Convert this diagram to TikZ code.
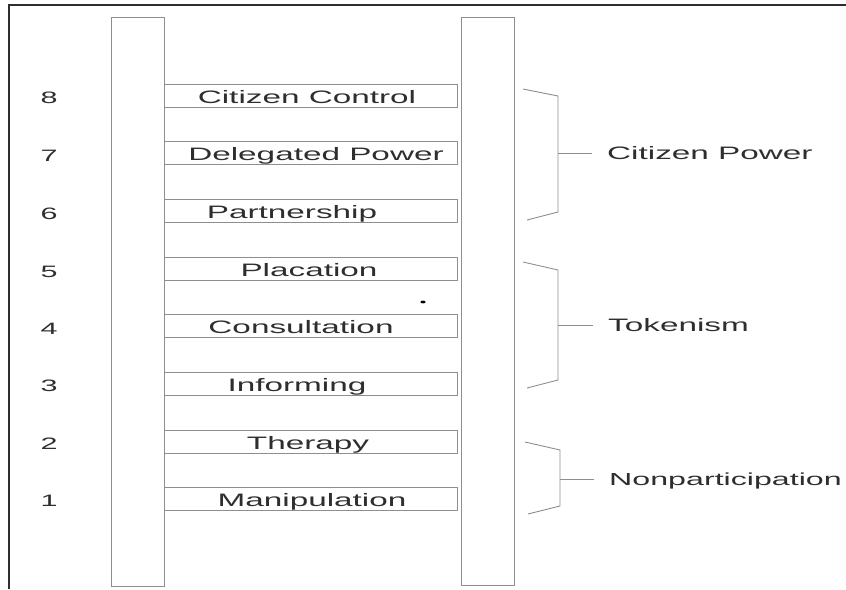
\documentclass[tikz,border=0pt]{standalone}
\usepackage{fontspec}
\newfontfamily\ladderfont[FakeStretch=1.85]{Liberation Sans}
\definecolor{railgray}{HTML}{8E8E8E}
\definecolor{inkgray}{HTML}{2E2E2E}
\definecolor{framegray}{HTML}{2E2E2E}
\begin{document}
\begin{tikzpicture}[x=1pt,y=-1pt,
  rail/.style={draw=railgray, line width=0.9pt, minimum width=53pt, inner sep=0pt, anchor=north west},
  rung/.style={draw=railgray, line width=0.9pt, minimum width=293.5pt, minimum height=23pt, inner sep=0pt, anchor=west},
  rungtext/.style={font=\ladderfont\fontsize{18}{18}\selectfont, text=inkgray, inner sep=0pt, text height=13pt, text depth=0pt},
  numtext/.style={font=\ladderfont\fontsize{16.5}{16.5}\selectfont, text=inkgray, inner sep=0pt, text height=12pt, text depth=0pt},
  grouptext/.style={font=\ladderfont\fontsize{18}{18}\selectfont, text=inkgray, inner sep=0pt, text height=13pt, text depth=0pt, anchor=west},
  bracket/.style={draw=railgray, line width=0.9pt},
  tick/.style={draw=railgray, line width=0.9pt, shorten >=15pt},
  frameline/.style={draw=framegray, line width=2.4pt}
]
\useasboundingbox (0,0) rectangle (846,589);
% frame (top and left only)
\draw[frameline] (9,589) -- (9,5) -- (846,5);
% rails
\node[rail, minimum height=569pt] (lrail) at (110.5,17) {};
\node[rail, minimum height=568pt] (rrail) at (460.5,17) {};
% rungs
\node[rung] (r8) at (163.5,95.5) {};
\node[rung] (r7) at (163.5,153.2) {};
\node[rung] (r6) at (163.5,210.9) {};
\node[rung] (r5) at (163.5,268.6) {};
\node[rung] (r4) at (163.5,326.3) {};
\node[rung] (r3) at (163.5,384.0) {};
\node[rung] (r2) at (163.5,441.7) {};
\node[rung] (r1) at (163.5,499.4) {};
% rung texts
\node[rungtext] (t8) at (307,96.5) {Citizen Control};
\node[rungtext] (t7) at (316,154.2) {Delegated Power};
\node[rungtext] (t6) at (292,211.9) {Partnership};
\node[rungtext] (t5) at (309,269.6) {Placation};
\node[rungtext] (t4) at (301,327.3) {Consultation};
\node[rungtext] (t3) at (297,385.0) {Informing};
\node[rungtext] (t2) at (308,442.7) {Therapy};
\node[rungtext] (t1) at (312,500.4) {Manipulation};
% numbers
\node[numtext] (n8) at (49,97) {8};
\node[numtext] (n7) at (49,155) {7};
\node[numtext] (n6) at (49,213) {6};
\node[numtext] (n5) at (49,271) {5};
\node[numtext] (n4) at (49,328) {4};
\node[numtext] (n3) at (49,385) {3};
\node[numtext] (n2) at (49,443) {2};
\node[numtext] (n1) at (49,500) {1};
% groups
\draw[bracket] (523,89) -- (558,96) -- (558,212) -- (527,220);
\coordinate (b1) at (558,153);
\node[grouptext] (g1) at (607,153) {Citizen Power};
\draw[tick] (b1) -- (g1.west);
\draw[bracket] (523,262) -- (558,270) -- (558,380) -- (527,388);
\coordinate (b2) at (558,325);
\node[grouptext] (g2) at (608,325) {Tokenism};
\draw[tick] (b2) -- (g2.west);
\draw[bracket] (525,442) -- (560,450) -- (560,506) -- (528,514);
\coordinate (b3) at (560,479);
\node[grouptext, font=\ladderfont\fontsize{17.4}{17.4}\selectfont] (g3) at (609,479) {Nonparticipation};
\draw[tick] (b3) -- (g3.west);
% speck
\fill[black] (423,302) ellipse (2.6 and 1.4);
\end{tikzpicture}
\end{document}
